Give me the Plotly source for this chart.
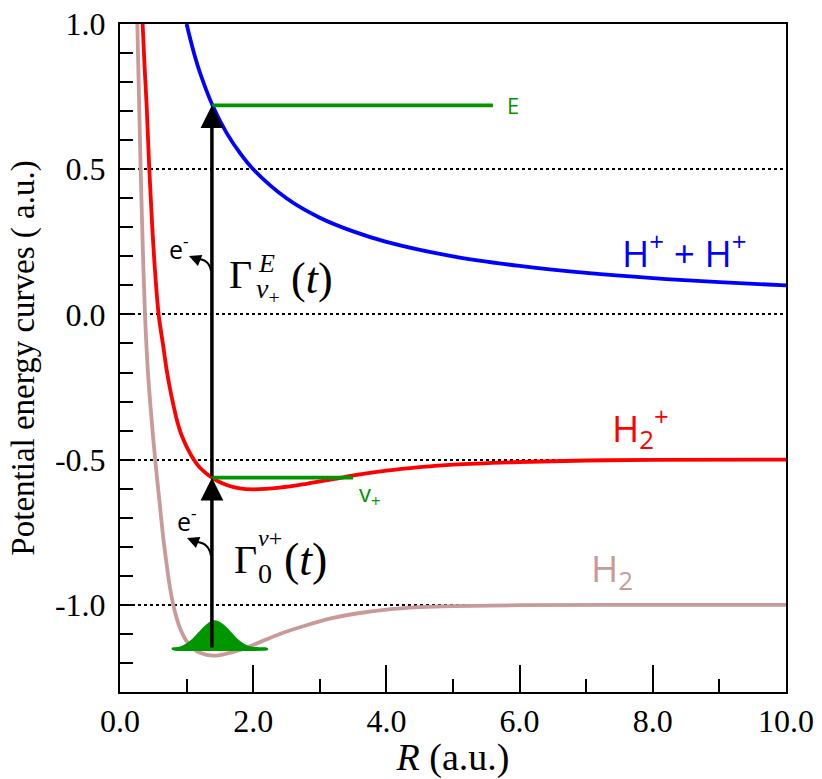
import plotly.graph_objects as go

# potential energy curves (R in a.u., energy in a.u.)
R_h2 = [0.26, 0.29, 0.31, 0.34, 0.375, 0.42, 0.5, 0.55, 0.6, 0.65, 0.7, 0.75, 0.8, 0.85, 0.9,
        0.95, 1.0, 1.1, 1.2, 1.4, 1.6, 1.8, 2.0, 2.4, 2.8, 3.2, 3.6, 4.0, 4.5, 5.0, 6.0, 8.0, 10.0]
E_h2 = [1.0, 0.7, 0.5, 0.25, 0.0, -0.2, -0.43, -0.55, -0.66, -0.77, -0.86, -0.94, -1.0, -1.045,
        -1.08, -1.105, -1.125, -1.15, -1.165, -1.175, -1.168, -1.155, -1.138, -1.10, -1.07,
        -1.045, -1.028, -1.016, -1.008, -1.004, -1.001, -1.0, -1.0]

R_h2p = [0.34, 0.37, 0.40, 0.44, 0.48, 0.52, 0.58, 0.65, 0.70, 0.75, 0.8, 0.85, 0.9, 0.95, 1.0,
         1.1, 1.2, 1.4, 1.6, 1.8, 2.0, 2.4, 2.8, 3.2, 3.6, 4.0, 4.5, 5.0, 6.0, 7.0, 8.0, 10.0]
E_h2p = [1.0, 0.85, 0.72, 0.5, 0.32, 0.17, 0.0, -0.11, -0.19, -0.255, -0.31, -0.36, -0.40,
         -0.43, -0.455, -0.497, -0.528, -0.565, -0.587, -0.599, -0.602, -0.596, -0.583, -0.567,
         -0.551, -0.538, -0.526, -0.517, -0.508, -0.503, -0.501, -0.5]

R_pp = [1.0, 1.1, 1.2, 1.4, 1.6, 1.8, 2.0, 2.5, 3.0, 3.5, 4.0, 5.0, 6.0, 7.0, 8.0, 9.0, 10.0]
E_pp = [1.0, 0.909, 0.833, 0.714, 0.625, 0.556, 0.5, 0.4, 0.333, 0.286, 0.25, 0.2, 0.167,
        0.143, 0.125, 0.111, 0.1]

# ground state wave packet (green bump)
R_wp = [0.80, 0.90, 1.00, 1.10, 1.20, 1.30, 1.42, 1.55, 1.65, 1.75, 1.85, 1.95, 2.05, 2.20]
E_wp = [-1.152, -1.150, -1.139, -1.122, -1.098, -1.074, -1.059, -1.074, -1.098, -1.122,
        -1.139, -1.148, -1.151, -1.152]

# levels
R_ion = 1.38
E_base = -1.152
R_vp = [1.38, 3.5]
E_vp = -0.562
R_E = [1.38, 5.6]
E_E = 0.72

xtick_vals = [0, 2, 4, 6, 8, 10]
xtick_text = ["0.0", "2.0", "4.0", "6.0", "8.0", "10.0"]
ytick_vals = [-1.0, -0.5, 0.0, 0.5, 1.0]
ytick_text = ["-1.0", "-0.5", "0.0", "0.5", "1.0"]

GREEN = "#009600"
ROSE = "#c99a9a"
SERIF = "Liberation Serif"
SANS = "Open Sans"


# pixel -> data helpers, only used to place the text decorations
def xd(p):
    return (p - 120) / 66.6


def yd(p):
    return 1.0 - (p - 24) * 2.3 / 668


fig = go.Figure()
fig.add_trace(go.Scatter(x=R_h2, y=E_h2, mode="lines", line=dict(color=ROSE, width=3.8, shape="spline")))
fig.add_trace(go.Scatter(x=R_h2p, y=E_h2p, mode="lines", line=dict(color="red", width=3.8, shape="spline")))
fig.add_trace(go.Scatter(x=R_pp, y=E_pp, mode="lines", line=dict(color="blue", width=3.8, shape="spline")))
fig.add_trace(go.Scatter(x=R_wp + [R_wp[0]], y=E_wp + [E_wp[0]], mode="lines", fill="toself",
                         fillcolor=GREEN, line=dict(color=GREEN, width=3.5, shape="spline")))
fig.add_trace(go.Scatter(x=R_vp, y=[E_vp, E_vp], mode="lines", line=dict(color=GREEN, width=3.8)))
fig.add_trace(go.Scatter(x=R_E, y=[E_E, E_E], mode="lines", line=dict(color=GREEN, width=3.8)))

ann = []
# the two vertical transitions
for y0, y1 in [(E_base, E_vp), (E_vp, E_E)]:
    ann.append(dict(x=R_ion, y=y1, ax=R_ion, ay=y0, xref="x", yref="y", axref="x", ayref="y",
                    text="", showarrow=True, arrowhead=2, arrowsize=1.3, arrowwidth=3.5,
                    arrowcolor="black", standoff=0))
# small curved e- arrows (heads)
for tx, ty in [(189, 256), (187, 538)]:
    ann.append(dict(x=xd(tx), y=yd(ty), ax=10, ay=4, xref="x", yref="y", text="",
                    showarrow=True, arrowhead=2, arrowsize=1.2, arrowwidth=2,
                    arrowcolor="black", standoff=0))


def label(txt, px, py, size, color="black", family=SERIF, anchor="left"):
    ann.append(dict(x=xd(px), y=yd(py - 0.35 * size), xref="x", yref="y", text=txt,
                    showarrow=False, xanchor=anchor, yanchor="middle",
                    font=dict(family=family, size=size, color=color)))


label("Γ", 240, 288, 40, anchor="center")
label("<i>E</i>", 256, 273, 26)
label("<i>v</i><sub>+</sub>", 254, 300, 28)
label("(<i>t</i>)", 289, 294, 44)

label("Γ", 245, 573, 40, anchor="center")
label("<i>v</i>+", 256, 546, 24)
label("0", 256, 583, 28)
label("(<i>t</i>)", 282, 576, 46)

label("e<sup>-</sup>", 167, 256, 25, family=SANS)
label("e<sup>-</sup>", 175, 528, 25, family=SANS)
label("E", 505, 113, 22, color=GREEN, family=SANS)
label("v<sub>+</sub>", 357, 502, 24, color=GREEN, family=SANS)
label("H<sup>+</sup> + H<sup>+</sup>", 620, 263, 37, color="blue", family=SANS)
label("H<sub>2</sub><sup>+</sup>", 610, 440, 37, color="red", family=SANS)
label("H<sub>2</sub>", 589, 583, 37, color=ROSE, family=SANS)

shapes = []
for (x0, y0), (cx, cy), (x1, y1) in [((211, 271), (209, 259), (197, 259)),
                                      ((211, 556), (209, 543), (197, 542))]:
    shapes.append(dict(type="path", xref="x", yref="y",
                       path=f"M {xd(x0)},{yd(y0)} Q {xd(cx)},{yd(cy)} {xd(x1)},{yd(y1)}",
                       line=dict(color="black", width=2)))

fig.update_layout(
    width=822, height=779,
    margin=dict(l=120, r=36, t=24, b=87, autoexpand=False),
    paper_bgcolor="white", plot_bgcolor="white",
    showlegend=False,
    annotations=ann, shapes=shapes,
    font=dict(family=SERIF, size=32, color="black"),
)
fig.update_xaxes(
    range=[0, 10], tickvals=xtick_vals, ticktext=xtick_text,
    ticks="inside", ticklen=27, tickwidth=2, tickcolor="black",
    minor=dict(dtick=1, tick0=0, ticks="inside", ticklen=13, tickwidth=2, tickcolor="black"),
    showline=True, linewidth=2, linecolor="black", mirror=True,
    showgrid=False, zeroline=False, automargin=False,
    tickfont=dict(family=SERIF, size=32),
    title=dict(text="<i>R</i> (a.u.)", font=dict(family=SERIF, size=38), standoff=6),
)
fig.update_yaxes(
    range=[-1.3, 1.0], tickvals=ytick_vals, ticktext=ytick_text,
    ticks="inside", ticklen=0, tickwidth=2, tickcolor="black",
    minor=dict(dtick=0.1, tick0=0, ticks="inside", ticklen=13, tickwidth=2, tickcolor="black"),
    showline=True, linewidth=2, linecolor="black", mirror=True,
    showgrid=True, gridcolor="black", gridwidth=1.5, griddash="dot",
    zeroline=False, automargin=False, ticklabelstandoff=6,
    tickfont=dict(family=SERIF, size=32),
    title=dict(text="Potential energy curves ( a.u.)", font=dict(family=SERIF, size=33), standoff=10),
)

fig.write_html("out.html", config={"displayModeBar": False},
               post_script="document.body.style.margin='0px';")
